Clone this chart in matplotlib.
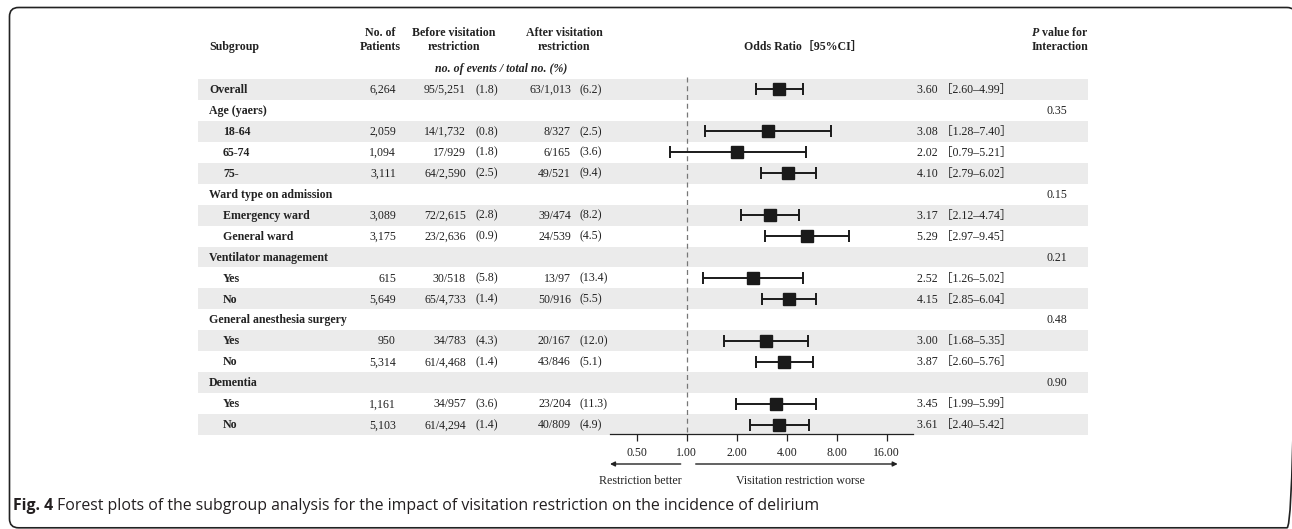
import numpy as np
import matplotlib
matplotlib.use("Agg")
import matplotlib.pyplot as plt
from matplotlib.patches import FancyBboxPatch, Rectangle

plt.rcParams['font.family'] = ['Liberation Serif', 'Noto Sans CJK JP']
plt.rcParams['mathtext.fontset'] = 'custom'
plt.rcParams['mathtext.it'] = 'Liberation Serif:italic:bold'
plt.rcParams['mathtext.rm'] = 'Liberation Serif:bold'

# -------------------------------------------------------------------
# Data
# -------------------------------------------------------------------
labels = ["Overall", "Age (yaers)", "18-64", "65-74", "75-",
          "Ward type on admission", "Emergency ward", "General ward",
          "Ventilator management", "Yes", "No",
          "General anesthesia surgery", "Yes", "No",
          "Dementia", "Yes", "No"]
is_child = [0, 0, 1, 1, 1, 0, 1, 1, 0, 1, 1, 0, 1, 1, 0, 1, 1]
patients = ["6,264", "", "2,059", "1,094", "3,111", "", "3,089", "3,175", "",
            "615", "5,649", "", "950", "5,314", "", "1,161", "5,103"]
before_n = ["95/5,251", "", "14/1,732", "17/929", "64/2,590", "", "72/2,615", "23/2,636", "",
            "30/518", "65/4,733", "", "34/783", "61/4,468", "", "34/957", "61/4,294"]
before_pct = ["(1.8)", "", "(0.8)", "(1.8)", "(2.5)", "", "(2.8)", "(0.9)", "",
              "(5.8)", "(1.4)", "", "(4.3)", "(1.4)", "", "(3.6)", "(1.4)"]
after_n = ["63/1,013", "", "8/327", "6/165", "49/521", "", "39/474", "24/539", "",
           "13/97", "50/916", "", "20/167", "43/846", "", "23/204", "40/809"]
after_pct = ["(6.2)", "", "(2.5)", "(3.6)", "(9.4)", "", "(8.2)", "(4.5)", "",
             "(13.4)", "(5.5)", "", "(12.0)", "(5.1)", "", "(11.3)", "(4.9)"]
nan = np.nan
odds = [3.60, nan, 3.08, 2.02, 4.10, nan, 3.17, 5.29, nan, 2.52, 4.15, nan, 3.00, 3.87, nan, 3.45, 3.61]
ci_lo = [2.60, nan, 1.28, 0.79, 2.79, nan, 2.12, 2.97, nan, 1.26, 2.85, nan, 1.68, 2.60, nan, 1.99, 2.40]
ci_hi = [4.99, nan, 7.40, 5.21, 6.02, nan, 4.74, 9.45, nan, 5.02, 6.04, nan, 5.35, 5.76, nan, 5.99, 5.42]
p_inter = ["", "0.35", "", "", "", "0.15", "", "", "0.21", "", "", "0.48", "", "", "0.90", "", ""]
tick_vals = [0.5, 1, 2, 4, 8, 16]
tick_labels = ["0.50", "1.00", "2.00", "4.00", "8.00", "16.00"]

# -------------------------------------------------------------------
# Layout (pixel units, image coords: y goes down)
# -------------------------------------------------------------------
W, H = 1292, 529
FS = 8.6
TXT = "#222222"
BASE = 3.6  # baseline offset below row centre
row_y0, row_dy = 89.3, 20.96
n_rows = len(labels)
rows = [row_y0 + i * row_dy for i in range(n_rows)]

fig = plt.figure(figsize=(W / 100, H / 100), dpi=100)
ax = fig.add_axes([0, 0, 1, 1])
ax.set_xlim(0, W)
ax.set_ylim(H, 0)
ax.axis("off")

# outer rounded frame
frame = FancyBboxPatch((9.5, 7.5), 1296 - 9.5, 527.8 - 7.5,
                       boxstyle="round,pad=0,rounding_size=9",
                       fc="none", ec="#222222", lw=1.2, clip_on=False)
ax.add_patch(frame)

# zebra shading
for i, y in enumerate(rows):
    if i % 2 == 0:
        ax.add_patch(Rectangle((198, y - row_dy / 2), 1088 - 198, row_dy,
                               fc="#ebebeb", ec="none", zorder=0))

# headers
hdr = dict(fontsize=FS, fontweight="bold", color=TXT, va="baseline")
ax.text(209, 50, "Subgroup", ha="left", **hdr)
ax.text(380, 36.5, "No. of", ha="center", **hdr)
ax.text(380, 50, "Patients", ha="center", **hdr)
ax.text(454, 36.5, "Before visitation", ha="center", **hdr)
ax.text(454, 50, "restriction", ha="center", **hdr)
ax.text(564, 36.5, "After visitation", ha="center", **hdr)
ax.text(564, 50, "restriction", ha="center", **hdr)
ax.text(803, 50, "Odds Ratio［95%CI］", ha="center", **hdr)
ax.text(1060, 36.5, r"$\mathit{P}$ value for", ha="center", **hdr)
ax.text(1060, 50, "Interaction", ha="center", **hdr)
ax.text(501, 72, "no. of events / total no. (%)", ha="center", fontsize=FS,
        fontweight="bold", fontstyle="italic", color=TXT, va="baseline")

# table body
txt = dict(fontsize=FS, color=TXT, va="baseline")
for i, y in enumerate(rows):
    yb = y + BASE
    lx = 223 if is_child[i] else 209
    ax.text(lx, yb, labels[i], ha="left", fontweight="bold", **txt)
    if patients[i]:
        ax.text(396, yb, patients[i], ha="right", **txt)
        ax.text(466, yb, before_n[i], ha="right", **txt)
        ax.text(475, yb, before_pct[i], ha="left", **txt)
        ax.text(571, yb, after_n[i], ha="right", **txt)
        ax.text(580, yb, after_pct[i], ha="left", **txt)
        ax.text(917, yb, f"{odds[i]:.2f} ［{ci_lo[i]:.2f}–{ci_hi[i]:.2f}］",
                ha="left", **txt)
    if p_inter[i]:
        ax.text(1057, yb, p_inter[i], ha="center", **txt)

# -------------------------------------------------------------------
# Forest panel
# -------------------------------------------------------------------
px_l, px_r, px_t, px_b = 610, 913, 75, 434
one_px, per_dbl = 686.7, 50.0
fx = fig.add_axes([px_l / W, (H - px_b) / H, (px_r - px_l) / W, (px_b - px_t) / H])
fx.patch.set_alpha(0)
fx.set_xscale("log", base=2)
fx.set_xlim(2 ** ((px_l - one_px) / per_dbl), 2 ** ((px_r - one_px) / per_dbl))
fx.set_ylim(px_b, px_t)
for s in ["top", "left", "right"]:
    fx.spines[s].set_visible(False)
fx.spines["bottom"].set_linewidth(0.9)
fx.spines["bottom"].set_color(TXT)
fx.set_yticks([])
fx.set_xticks(tick_vals)
fx.set_xticklabels(tick_labels)
fx.xaxis.set_minor_locator(matplotlib.ticker.NullLocator())
fx.tick_params(axis="x", length=5, width=0.9, color=TXT, labelsize=FS,
               labelcolor=TXT, pad=4)

fx.plot([1, 1], [77, px_b], ls=(0, (4, 3)), color="#777777", lw=0.9, zorder=1)

od = np.array(odds)
lo = np.array(ci_lo)
hi = np.array(ci_hi)
yy = np.array(rows)
m = ~np.isnan(od)
fx.errorbar(od[m], yy[m], xerr=[od[m] - lo[m], hi[m] - od[m]], fmt="s",
            color="#1a1a1a", ms=8.6, elinewidth=1.4, capsize=4.4, capthick=1.4,
            zorder=3)

# direction arrows
arr = dict(arrowstyle="-|>", lw=1.0, color=TXT, mutation_scale=7,
           shrinkA=0, shrinkB=0)
ax.annotate("", xy=(610, 464), xytext=(680.7, 464), arrowprops=arr)
ax.annotate("", xy=(897.7, 464), xytext=(695.7, 464), arrowprops=arr)
ax.text(640, 484.5, "Restriction better", ha="center", va="baseline", fontsize=FS, color=TXT)
ax.text(800, 484.5, "Visitation restriction worse", ha="center", va="baseline",
        fontsize=FS, color=TXT)

# caption
cap = ax.text(13, 510, "Fig. 4", ha="left", va="baseline", fontsize=11.4,
              fontfamily="Open Sans", fontweight="bold", color="#231f20")
ax.annotate(" Forest plots of the subgroup analysis for the impact of visitation "
            "restriction on the incidence of delirium",
            xy=(1, 0), xycoords=cap, ha="left", va="bottom", fontsize=11.4,
            fontfamily="Open Sans", color="#231f20")

fig.savefig("out.png", dpi=100)
